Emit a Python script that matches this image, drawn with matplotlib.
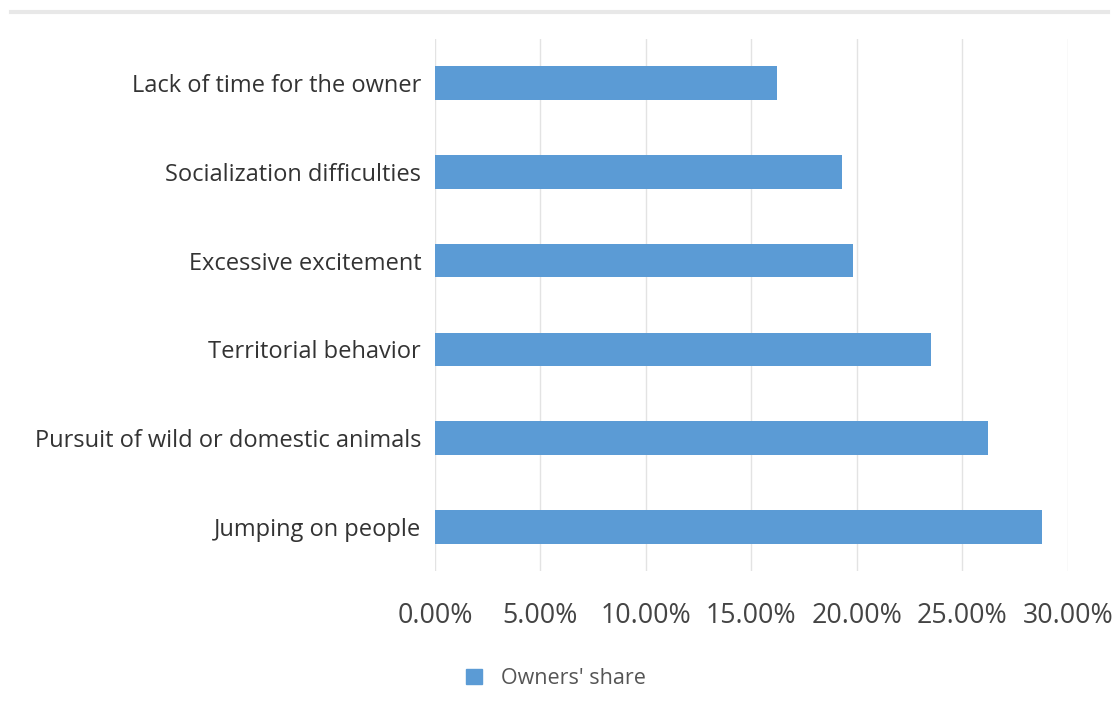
import matplotlib
matplotlib.use('Agg')
import matplotlib.pyplot as plt
from matplotlib.lines import Line2D
from matplotlib.ticker import FuncFormatter

# data
reasons = ['Lack of time for the owner', 'Socialization difficulties',
           'Excessive excitement', 'Territorial behavior',
           'Pursuit of wild or domestic animals', 'Jumping on people']
share = [16.2, 19.3, 19.8, 23.5, 26.2, 28.8]
ticks = [0, 5, 10, 15, 20, 25, 30]

plt.rcParams['font.family'] = ['Open Sans', 'DejaVu Sans']

fig = plt.figure(figsize=(11.14, 7.28), dpi=100)
ax = fig.add_axes([0.3905, 0.215, 0.568, 0.732])

ax.barh(range(len(reasons)), share, height=0.38, color='#5b9bd5', zorder=3)
ax.set_ylim(len(reasons) - 0.5, -0.5)
ax.set_xlim(0, 30)
ax.set_yticks(range(len(reasons)))
ax.set_yticklabels(reasons, fontsize=17, color='#333333')
ax.set_xticks(ticks)
ax.xaxis.set_major_formatter(FuncFormatter(lambda v, p: '{:.2f}%'.format(v)))
ax.tick_params(axis='x', labelsize=19.3, colors='#444444', length=0, pad=22)
ax.tick_params(axis='y', length=0, pad=10)
ax.grid(axis='x', color='#e3e3e3', linewidth=1, zorder=0)
for s in ax.spines.values():
    s.set_visible(False)

# light top rule
fig.add_artist(Line2D([0.01, 0.995], [0.984, 0.984], color='#e8e8e8', linewidth=3))

# legend
h = plt.Rectangle((0, 0), 1, 1, color='#5b9bd5')
fig.legend([h], ["Owners' share"], loc='center', bbox_to_anchor=(0.499, 0.068),
           frameon=False, fontsize=15.5, handlelength=0.75, handleheight=0.75,
           labelcolor='#555555', handletextpad=0.85)

fig.savefig('out.png', dpi=100, facecolor='white')
